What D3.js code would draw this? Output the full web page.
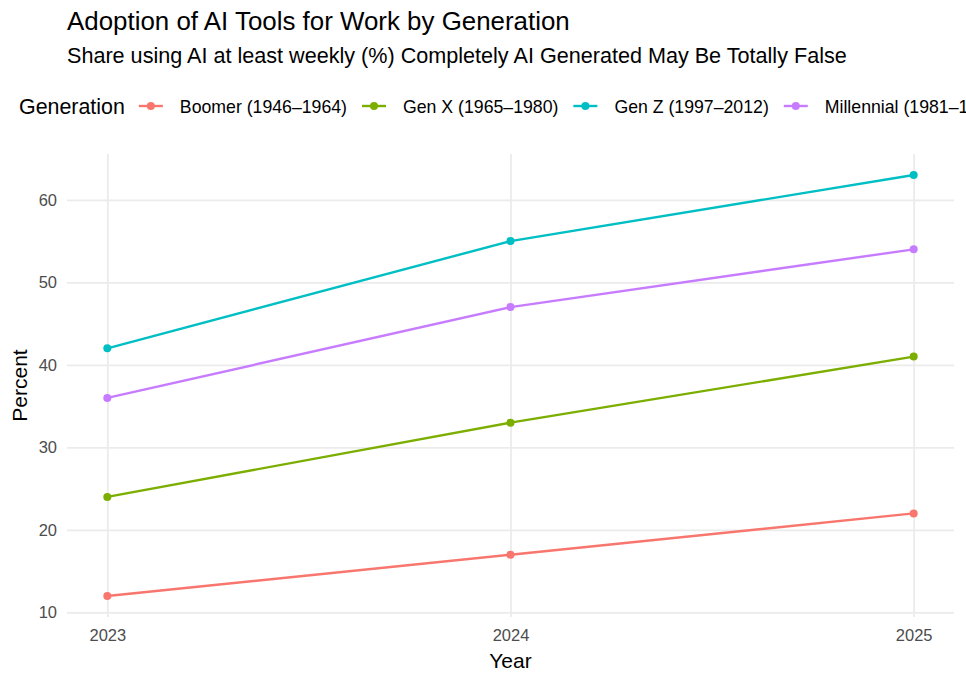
<!DOCTYPE html>
<html lang="en">
<head>
<meta charset="utf-8">
<title>AI Adoption by Generation</title>
<script src="https://d3js.org/d3.v7.min.js"></script>
<style>
  body { margin: 0; background: #fff; }
  text { font-family: "Liberation Sans", Arial, sans-serif; }
</style>
</head>
<body>
<script>
// data
var years = [2023, 2024, 2025];
var generations = ["Boomer (1946\u20131964)", "Gen X (1965\u20131980)", "Gen Z (1997\u20132012)", "Millennial (1981\u20131996)"];
var boomer = [12, 17, 22];
var genX = [24, 33, 41];
var genZ = [42, 55, 63];
var millennial = [36, 47, 54];
var yTicks = [10, 20, 30, 40, 50, 60];
var colors = ["#F8766D", "#7CAE00", "#00BFC4", "#C77CFF"];

var series = [boomer, genX, genZ, millennial];

var w = 966, h = 683;
var pLeft = 67, pRight = 954, pTop = 154, pBottom = 617;

var svg = d3.select("body").append("svg")
    .attr("width", w)
    .attr("height", h);

// scales, 5% expansion like ggplot
var xScale = d3.scaleLinear()
    .domain([2023 - 0.1, 2025 + 0.1])
    .range([pLeft, pRight]);
var yMin = 12, yMax = 63, pad = (yMax - yMin) * 0.05;
var yScale = d3.scaleLinear()
    .domain([yMin - pad, yMax + pad])
    .range([pBottom, pTop]);

// grid
var xAxis = d3.axisBottom(xScale).tickValues(years).tickFormat(d3.format("d"))
    .tickSize(-(pBottom - pTop)).tickPadding(12);
var yAxis = d3.axisLeft(yScale).tickValues(yTicks)
    .tickSize(-(pRight - pLeft)).tickPadding(10);

var gx = svg.append("g").attr("transform", "translate(0," + pBottom + ")").call(xAxis);
var gy = svg.append("g").attr("transform", "translate(" + pLeft + ",0)").call(yAxis);
[gx, gy].forEach(function(g) {
  g.select(".domain").remove();
  g.selectAll(".tick line").attr("stroke", "#EBEBEB").attr("stroke-width", 1.8);
  g.selectAll(".tick text").attr("fill", "#4D4D4D").style("font-size", "16.5px");
});
gy.selectAll(".tick text").attr("x", -10);

// lines
var line = d3.line()
    .x(function(d, i) { return xScale(years[i]); })
    .y(function(d) { return yScale(d); });

series.forEach(function(s, k) {
  svg.append("path")
      .datum(s)
      .attr("d", line)
      .attr("fill", "none")
      .attr("stroke", colors[k])
      .attr("stroke-width", 2.4);
  svg.selectAll(".pt" + k)
      .data(s)
      .enter()
      .append("circle")
      .attr("cx", function(d, i) { return xScale(years[i]); })
      .attr("cy", function(d) { return yScale(d); })
      .attr("r", 4)
      .attr("fill", colors[k]);
});

// titles
svg.append("text").attr("x", 67).attr("y", 30)
    .style("font-size", "25.9px").attr("fill", "#000")
    .text("Adoption of AI Tools for Work by Generation");
svg.append("text").attr("x", 67).attr("y", 63)
    .style("font-size", "21.6px").attr("fill", "#000")
    .text("Share using AI at least weekly (%) Completely AI Generated May Be Totally False");

svg.append("text")
    .attr("x", (pLeft + pRight) / 2).attr("y", 668)
    .attr("text-anchor", "middle")
    .style("font-size", "21px")
    .text("Year");
svg.append("text")
    .attr("transform", "translate(27," + ((pTop + pBottom) / 2) + ") rotate(-90)")
    .attr("text-anchor", "middle")
    .style("font-size", "21px")
    .text("Percent");

// legend
var legY = 106;
var lt = svg.append("text").attr("x", 19).attr("y", legY + 7.5)
    .style("font-size", "21.4px")
    .text("Generation");
var cx = 19 + lt.node().getComputedTextLength() + 26;
generations.forEach(function(g, k) {
  svg.append("line")
      .attr("x1", cx - 12).attr("x2", cx + 12)
      .attr("y1", legY).attr("y2", legY)
      .attr("stroke", colors[k]).attr("stroke-width", 2.4);
  svg.append("circle").attr("cx", cx).attr("cy", legY).attr("r", 4).attr("fill", colors[k]);
  var t = svg.append("text").attr("x", cx + 29).attr("y", legY + 6.5)
      .style("font-size", "17.7px")
      .text(g);
  cx = cx + 29 + t.node().getComputedTextLength() + 27;
});
</script>
</body>
</html>
